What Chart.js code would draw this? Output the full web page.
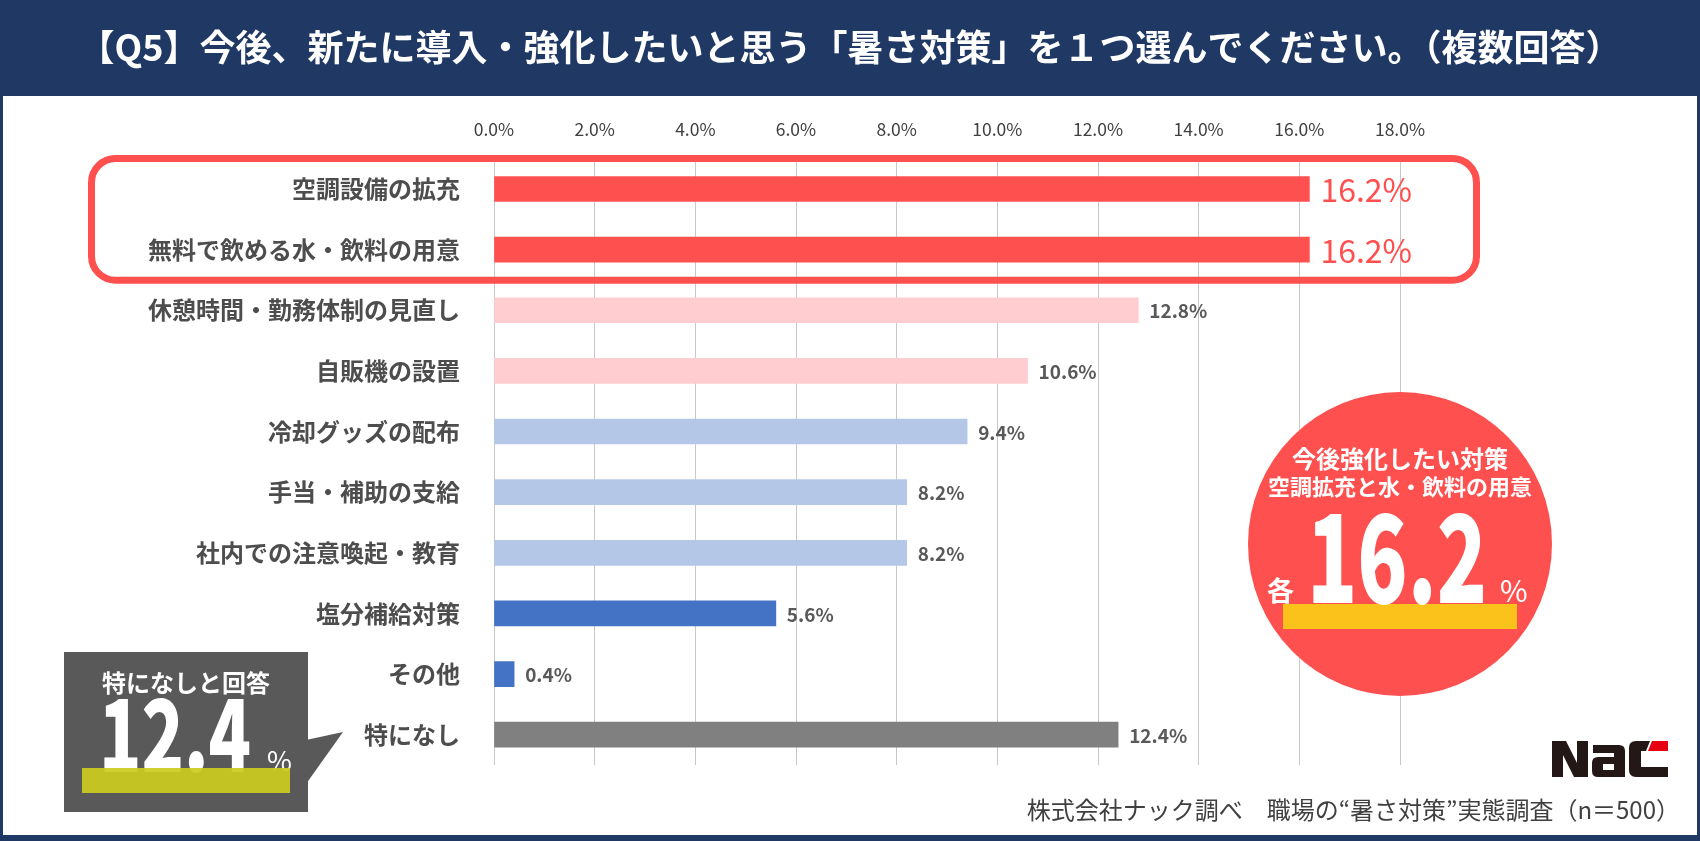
<!DOCTYPE html>
<html><head><meta charset="utf-8">
<script src="https://cdn.jsdelivr.net/npm/chart.js@4.4.1/dist/chart.umd.min.js"></script>
<style>html,body{margin:0;padding:0;background:#fff;}canvas{display:block;}</style>
</head><body>
<canvas id="c" width="1700" height="841"></canvas>
<script>
const titleText = '【Q5】今後、新たに導入・強化したいと思う「暑さ対策」を１つ選んでください。（複数回答）';
const categories = ['空調設備の拡充','無料で飲める水・飲料の用意','休憩時間・勤務体制の見直し','自販機の設置','冷却グッズの配布','手当・補助の支給','社内での注意喚起・教育','塩分補給対策','その他','特になし'];
const values = [16.2,16.2,12.8,10.6,9.4,8.2,8.2,5.6,0.4,12.4];
const barColors = ['#ff5050','#ff5050','#ffcdd0','#ffcdd0','#b4c7e7','#b4c7e7','#b4c7e7','#4472c4','#4472c4','#808080'];
const highlighted = [true,true,false,false,false,false,false,false,false,false];
const axisMin = 0, axisMax = 18, axisStep = 2;
const circleLines = ['今後強化したい対策','空調拡充と水・飲料の用意'];
const circlePrefix = '各';
const noneCaption = '特になしと回答';
const sourceText = '株式会社ナック調べ　職場の“暑さ対策”実態調査（n＝500）';

const FF = "'Noto Sans CJK JP', 'Noto Sans', sans-serif";
Chart.defaults.font.family = FF;

function fitText(ctx, text, x, y, font, width) {
  ctx.save();
  ctx.font = font;
  const w = ctx.measureText(text).width;
  ctx.translate(x, y);
  ctx.scale(width / w, 1);
  ctx.textAlign = 'left';
  ctx.fillText(text, 0, 0);
  ctx.restore();
}

const decor = {
  id: 'decor',
  beforeDraw(chart) {
    const ctx = chart.ctx;
    ctx.save();
    ctx.fillStyle = '#1f3864';
    ctx.fillRect(0, 0, 1700, 841);
    ctx.fillStyle = '#ffffff';
    ctx.fillRect(3, 96, 1694, 739);
    ctx.fillStyle = '#ffffff';
    ctx.font = 'bold 36px ' + FF;
    ctx.textAlign = 'center';
    ctx.textBaseline = 'middle';
    ctx.fillText(titleText, 850, 47);
    ctx.restore();
  },
  afterDatasetsDraw(chart) {
    const ctx = chart.ctx;
    const meta = chart.getDatasetMeta(0);
    ctx.save();
    ctx.textAlign = 'left';
    ctx.textBaseline = 'middle';
    meta.data.forEach((el, i) => {
      const txt = values[i].toFixed(1) + '%';
      if (highlighted[i]) {
        ctx.font = '32px ' + FF;
        ctx.fillStyle = '#ff5050';
        ctx.fillText(txt, el.x + 11, el.y + 1);
      } else {
        ctx.font = 'bold 19px ' + FF;
        ctx.fillStyle = '#595959';
        ctx.fillText(txt, el.x + 11, el.y + 1);
      }
    });
    ctx.restore();
  },
  afterDraw(chart) {
    const ctx = chart.ctx;
    const ys = chart.scales.y;
    ctx.save();
    // highlight frame
    const y0 = ys.getPixelForValue(0), y1 = ys.getPixelForValue(1);
    ctx.strokeStyle = '#ff5050';
    ctx.lineWidth = 7;
    ctx.beginPath();
    ctx.roundRect(91.5, y0 - 30.5, 1385, (y1 - y0) + 61, 24);
    ctx.stroke();

    // circle
    ctx.fillStyle = '#ff5050';
    ctx.beginPath();
    ctx.arc(1400, 544, 152, 0, Math.PI * 2);
    ctx.fill();
    ctx.fillStyle = '#ffffff';
    ctx.textAlign = 'center';
    ctx.textBaseline = 'middle';
    ctx.font = 'bold 24px ' + FF;
    ctx.fillText(circleLines[0], 1400, 459);
    ctx.font = 'bold 22px ' + FF;
    ctx.fillText(circleLines[1], 1400, 487);
    ctx.fillStyle = '#fbc21b';
    ctx.fillRect(1283, 604, 234, 25);
    ctx.fillStyle = '#ffffff';
    ctx.textBaseline = 'alphabetic';
    fitText(ctx, values[0].toFixed(1), 1307, 603, '900 122px ' + FF, 180);
    ctx.textAlign = 'left';
    ctx.textBaseline = 'middle';
    ctx.font = 'bold 27px ' + FF;
    ctx.fillText(circlePrefix, 1267, 591);
    ctx.textBaseline = 'alphabetic';
    ctx.font = '30px ' + FF;
    ctx.fillText('%', 1500, 602);

    // callout box
    ctx.fillStyle = '#595959';
    ctx.fillRect(64, 652, 244, 160);
    ctx.beginPath();
    ctx.moveTo(306, 740);
    ctx.lineTo(343, 732);
    ctx.lineTo(306, 784);
    ctx.closePath();
    ctx.fill();
    ctx.fillStyle = '#ffffff';
    ctx.textAlign = 'center';
    ctx.textBaseline = 'middle';
    ctx.font = 'bold 24px ' + FF;
    ctx.fillText(noneCaption, 186, 683);
    ctx.textBaseline = 'alphabetic';
    fitText(ctx, values[9].toFixed(1), 99, 772, '900 100px ' + FF, 152);
    ctx.textAlign = 'left';
    ctx.font = '27px ' + FF;
    ctx.fillText('%', 267, 771);
    ctx.globalAlpha = 0.92;
    ctx.fillStyle = '#cccc1e';
    ctx.fillRect(82, 768, 208, 25);
    ctx.globalAlpha = 1;

    // logo
    ctx.fillStyle = '#231815';
    ctx.beginPath();
    ctx.moveTo(1552, 741); ctx.lineTo(1566, 741); ctx.lineTo(1577, 763); ctx.lineTo(1577, 741);
    ctx.lineTo(1588, 741); ctx.lineTo(1588, 777); ctx.lineTo(1574, 777); ctx.lineTo(1563, 755);
    ctx.lineTo(1563, 777); ctx.lineTo(1552, 777); ctx.closePath(); ctx.fill();
    ctx.beginPath();
    ctx.moveTo(1593, 745); ctx.lineTo(1619, 745); ctx.quadraticCurveTo(1625, 745, 1625, 751);
    ctx.lineTo(1625, 777); ctx.lineTo(1598, 777); ctx.quadraticCurveTo(1592, 777, 1592, 771);
    ctx.lineTo(1592, 763); ctx.quadraticCurveTo(1592, 757, 1598, 757); ctx.lineTo(1614, 757);
    ctx.lineTo(1614, 753); ctx.lineTo(1593, 753); ctx.closePath();
    ctx.moveTo(1603, 764); ctx.lineTo(1603, 770); ctx.lineTo(1614, 770); ctx.lineTo(1614, 764); ctx.closePath();
    ctx.fill('evenodd');
    ctx.beginPath();
    ctx.moveTo(1636, 741); ctx.lineTo(1650, 741); ctx.lineTo(1646, 751); ctx.lineTo(1641, 751);
    ctx.lineTo(1641, 767); ctx.lineTo(1668, 767); ctx.lineTo(1668, 777); ctx.lineTo(1636, 777);
    ctx.quadraticCurveTo(1629, 777, 1629, 770); ctx.lineTo(1629, 748); ctx.quadraticCurveTo(1629, 741, 1636, 741);
    ctx.closePath(); ctx.fill();
    ctx.fillStyle = '#e60012';
    ctx.beginPath();
    ctx.moveTo(1652, 741); ctx.lineTo(1668, 741); ctx.lineTo(1668, 751); ctx.lineTo(1648, 751); ctx.closePath();
    ctx.fill();

    // footer
    ctx.fillStyle = '#404040';
    ctx.font = '24px ' + FF;
    ctx.textAlign = 'right';
    ctx.textBaseline = 'middle';
    ctx.fillText(sourceText, 1680, 810);
    ctx.restore();
  }
};

new Chart(document.getElementById('c'), {
  type: 'bar',
  data: {
    labels: categories,
    datasets: [{ data: values, backgroundColor: barColors, barThickness: 25, borderWidth: 0 }]
  },
  options: {
    indexAxis: 'y',
    responsive: false,
    animation: false,
    layout: { padding: { left: 0, right: 300, top: 100, bottom: 76 } },
    scales: {
      x: {
        position: 'top',
        min: axisMin, max: axisMax,
        ticks: { stepSize: axisStep, padding: 19, color: '#404040', font: { size: 17.5 },
                 callback: v => Number(v).toFixed(1) + '%' },
        grid: { color: '#c8c8c8', drawTicks: false, lineWidth: 1 },
        border: { display: false },
        afterFit: s => { s.height = 58.7; }
      },
      y: {
        ticks: { padding: 26, color: '#4d4d4d', font: { size: 24, weight: 'bold' } },
        grid: { display: false },
        border: { display: false },
        afterFit: s => { s.width = 494; }
      }
    },
    plugins: { legend: { display: false }, tooltip: { enabled: false } }
  },
  plugins: [decor]
});
</script>
</body></html>
